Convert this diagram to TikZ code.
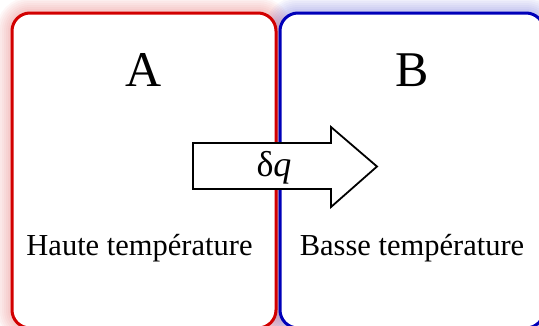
\documentclass[tikz,border=0pt]{standalone}
\usepackage{fontspec}
\setmainfont{Liberation Serif}
\definecolor{hotRed}{RGB}{210,0,0}
\definecolor{coldBlue}{RGB}{0,0,185}

\begin{document}
\begin{tikzpicture}[x=1pt, y=-1pt,
  boxline/.style={line width=3pt, rounded corners=18pt},
  glowline/.style={opacity=0.03, rounded corners=18pt},
  bigletter/.style={font=\fontsize{50}{56}\selectfont, anchor=base},
  templabel/.style={font=\fontsize{30.5}{34}\selectfont, anchor=base},
  heatarrow/.style={draw=black, line width=1.8pt, fill=white, line join=miter},
]

%% ── page frame: 1 unit = 1 px, y grows downward ──────────
\useasboundingbox (0,0) rectangle (539,325);
\clip (0,0) rectangle (539,325);

%% ── box edges ────────────────────────────────────────────
\def\boxT{13}    % top of both boxes
\def\boxB{328}   % bottom (just under the page)
\def\AxL{12}  \def\AxR{276}
\def\BxL{280} \def\BxR{544}

%% ── soft glow round the boxes ────────────────────────────
\foreach \w in {4,8,...,32}{
  \draw[hotRed, glowline, line width=\w pt]   (\AxL,\boxT) rectangle (\AxR,\boxB);
  \draw[coldBlue, glowline, line width=\w pt] (\BxL,\boxT) rectangle (\BxR,\boxB);
}

%% ── the two bodies ───────────────────────────────────────
\fill[white, rounded corners=18pt] (\AxL,\boxT) rectangle (\AxR,\boxB);
\fill[white, rounded corners=18pt] (\BxL,\boxT) rectangle (\BxR,\boxB);
\draw[hotRed, boxline]   (\AxL,\boxT) rectangle (\AxR,\boxB);
\draw[coldBlue, boxline] (\BxL,\boxT) rectangle (\BxR,\boxB);

%% ── heat flow arrow ──────────────────────────────────────
\draw[heatarrow] (193,143) -- (331,143) -- (331,127) -- (377,166.5)
  -- (331,207) -- (331,189) -- (193,189) -- cycle;

%% ── labels ───────────────────────────────────────────────
\node[bigletter] (nameA) at (143.5,86) {A};
\node[bigletter] (nameB) at (412,86) {B};
\node[templabel] (hotT) at (139.5,255) {Haute température};
\node[templabel] (coldT) at (412,255) {Basse température};
\node[font=\fontsize{36}{40}\selectfont, anchor=base] (flux) at (274,176) {δ\textit{q}};

\end{tikzpicture}
\end{document}
